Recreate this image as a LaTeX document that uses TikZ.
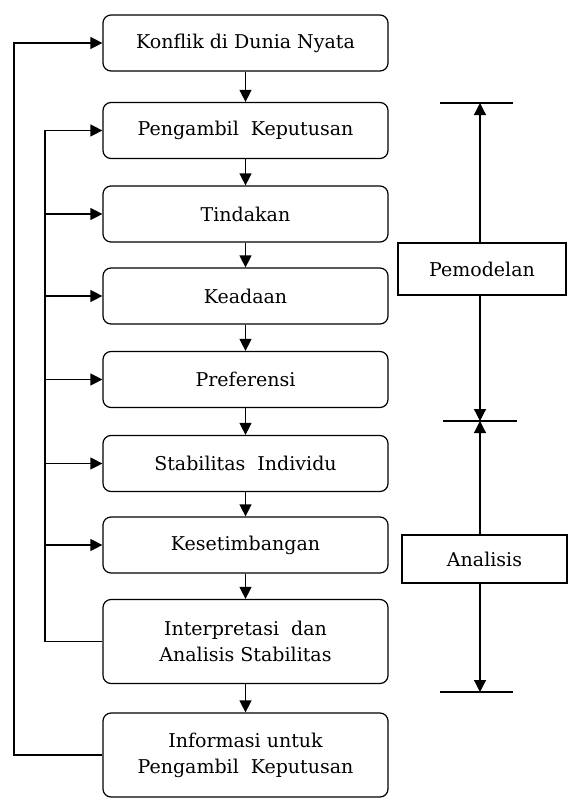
\documentclass[tikz,border=0pt]{standalone}
\usepackage{fontspec}
\setmainfont{DejaVu Serif}
\usetikzlibrary{arrows.meta, positioning, calc}

\tikzset{
  stage/.style={draw, line width=1.2pt, rounded corners=8pt,
    minimum width=285pt, minimum height=56pt, align=center,
    font=\fontsize{19}{26}\selectfont},
  tallstage/.style={stage, minimum height=84pt},
  phase/.style={draw, line width=1.2pt, align=center,
    font=\fontsize{19}{26}\selectfont},
  flow/.style={-{Triangle[length=12pt,width=12pt]}, line width=1.2pt},
  link/.style={line width=1.2pt},
}

\begin{document}
\begin{tikzpicture}[x=1pt, y=-1pt]
  \useasboundingbox (0,0) rectangle (568,800);

  \def\colX{245.5}

  % Main column
  \node[stage] (konflik) at (\colX,43)  {Konflik di Dunia Nyata};
  \node[stage] (pengambil) at (\colX,130.5) {Pengambil\ \ Keputusan};
  \node[stage] (tindakan) at (\colX,214) {Tindakan};
  \node[stage] (keadaan) at (\colX,296) {Keadaan};
  \node[stage] (preferensi) at (\colX,379.5) {Preferensi};
  \node[stage] (stabilitas) at (\colX,463.5) {Stabilitas\ \ Individu};
  \node[stage] (setimbang) at (\colX,545) {Kesetimbangan};
  \node[tallstage] (interpretasi) at (\colX,641.5) {Interpretasi\ \ dan\\Analisis Stabilitas};
  \node[tallstage] (informasi) at (\colX,755) {Informasi untuk\\Pengambil\ \ Keputusan};

  \foreach \a/\b in {konflik/pengambil, pengambil/tindakan, tindakan/keadaan,
      keadaan/preferensi, preferensi/stabilitas, stabilitas/setimbang,
      setimbang/interpretasi, interpretasi/informasi}
    \draw[flow] (\a.south) -- (\b.north);

  % Feedback loops on the left
  \coordinate (outer) at (14,0);
  \coordinate (inner) at (45,0);
  \draw[flow] (informasi.west) -- (informasi.west -| outer)
    -- (konflik.west -| outer) -- (konflik.west);
  \draw[flow] (interpretasi.west) -- (interpretasi.west -| inner)
    -- (pengambil.west -| inner) -- (pengambil.west);
  \foreach \n in {tindakan, keadaan, preferensi, stabilitas, setimbang}
    \draw[flow] (\n.west -| inner) -- (\n.west);

  % Phases on the right
  \node[phase, minimum width=168pt, minimum height=52pt] (pemodelan) at (482,269) {Pemodelan};
  \node[phase, minimum width=165pt, minimum height=48pt] (analisis) at (484.5,559) {Analisis};

  \coordinate (topbar) at (480,103);
  \coordinate (midbar) at (480,421);
  \coordinate (lowbar) at (480,692);
  \draw[link] ([xshift=-40pt]topbar) -- ([xshift=33pt]topbar);
  \draw[link] ([xshift=-37pt]midbar) -- ([xshift=37pt]midbar);
  \draw[link] ([xshift=-40pt]lowbar) -- ([xshift=33pt]lowbar);

  \draw[flow] (pemodelan.north -| topbar) -- (topbar);
  \draw[flow] (pemodelan.south -| midbar) -- (midbar);
  \draw[flow] (analisis.north -| midbar) -- (midbar);
  \draw[flow] (analisis.south -| lowbar) -- (lowbar);
\end{tikzpicture}
\end{document}
